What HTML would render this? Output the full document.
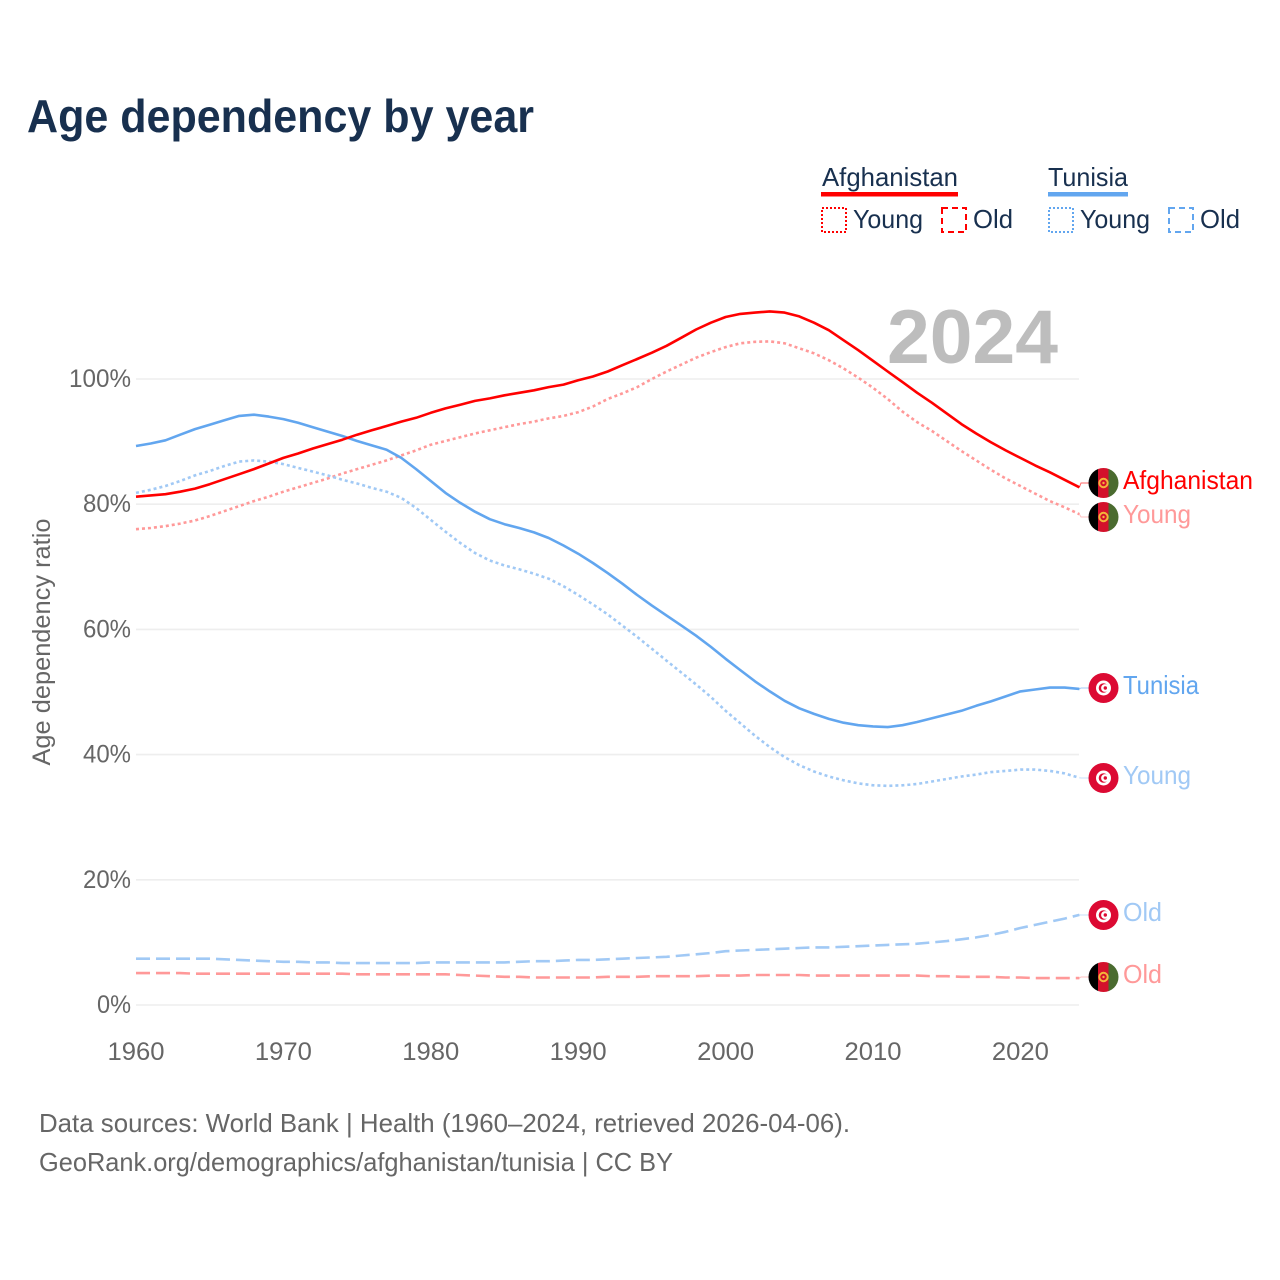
<!DOCTYPE html>
<html lang="en">
<head>
<meta charset="utf-8">
<title>Age dependency by year</title>
<style>
html,body{margin:0;padding:0;background:#fff;}
svg{display:block;}
text{font-family:"Liberation Sans",sans-serif;}
</style>
</head>
<body>
<svg id="chart" xmlns="http://www.w3.org/2000/svg" width="1280" height="1280" viewBox="0 0 1280 1280">
<defs>
<clipPath id="flag-clip"><circle cx="0" cy="0" r="15"/></clipPath>
<g id="flag-af">
<g clip-path="url(#flag-clip)">
<rect x="-15" y="-15" width="10" height="30" fill="#000"/>
<rect x="-5.5" y="-15" width="11" height="30" fill="#d3112b"/>
<rect x="5" y="-15" width="10" height="30" fill="#4a6b2f"/>
</g>
<circle cx="0" cy="0" r="4.2" fill="none" stroke="#f4b43a" stroke-width="2"/>
<circle cx="0" cy="0" r="1.2" fill="#f4b43a"/>
</g>
<g id="flag-tn">
<circle cx="0" cy="0" r="15" fill="#dc0a33"/>
<circle cx="0" cy="0" r="7.5" fill="#fff"/>
<circle cx="0" cy="0" r="4.8" fill="#dc0a33"/>
<circle cx="1.5" cy="0" r="3.9" fill="#fff"/>
<circle cx="1.8" cy="0" r="1.7" fill="#dc0a33"/>
</g>
</defs>

<text x="27" y="132" font-size="46" font-weight="700" fill="#18304f" textLength="507" lengthAdjust="spacingAndGlyphs">Age dependency by year</text>

<g>
<text x="822" y="186" font-size="26" fill="#18304f" textLength="136" lengthAdjust="spacingAndGlyphs">Afghanistan</text>
<rect x="821" y="192" width="137" height="4.5" fill="#ff0000"/>
<rect x="822" y="208" width="24" height="24" fill="none" stroke="#ff0000" stroke-width="2" stroke-dasharray="2 2"/>
<text x="853" y="228" font-size="26" fill="#18304f" textLength="70" lengthAdjust="spacingAndGlyphs">Young</text>
<rect x="942" y="208" width="24" height="24" fill="none" stroke="#ff0000" stroke-width="2" stroke-dasharray="6 4"/>
<text x="973" y="228" font-size="26" fill="#18304f" textLength="40" lengthAdjust="spacingAndGlyphs">Old</text>
<text x="1048" y="186" font-size="26" fill="#18304f" textLength="80" lengthAdjust="spacingAndGlyphs">Tunisia</text>
<rect x="1048" y="192" width="80" height="4.5" fill="#62a6ef"/>
<rect x="1049" y="208" width="24" height="24" fill="none" stroke="#62a6ef" stroke-width="2" stroke-dasharray="2 2"/>
<text x="1080" y="228" font-size="26" fill="#18304f" textLength="70" lengthAdjust="spacingAndGlyphs">Young</text>
<rect x="1169" y="208" width="24" height="24" fill="none" stroke="#62a6ef" stroke-width="2" stroke-dasharray="6 4"/>
<text x="1200" y="228" font-size="26" fill="#18304f" textLength="40" lengthAdjust="spacingAndGlyphs">Old</text>
</g>

<g id="grid"></g>
<g id="yticks"></g>
<g id="xticks"></g>

<text transform="translate(50,642) rotate(-90)" text-anchor="middle" font-size="25" fill="#666" textLength="247" lengthAdjust="spacingAndGlyphs">Age dependency ratio</text>

<text x="887" y="363" font-size="76" font-weight="700" fill="#bdbdbd" textLength="171" lengthAdjust="spacingAndGlyphs">2024</text>

<g id="series"></g>

<g>
<use href="#flag-af" x="1103.5" y="483"/>
<text x="1123" y="489" font-size="26" fill="#ff0000" textLength="130" lengthAdjust="spacingAndGlyphs">Afghanistan</text>
<use href="#flag-af" x="1103.5" y="517"/>
<text x="1123" y="523" font-size="26" fill="#ff9999" textLength="68" lengthAdjust="spacingAndGlyphs">Young</text>
<use href="#flag-tn" x="1103.5" y="688"/>
<text x="1123" y="694" font-size="26" fill="#62a6ef" textLength="76" lengthAdjust="spacingAndGlyphs">Tunisia</text>
<use href="#flag-tn" x="1103.5" y="778"/>
<text x="1123" y="784" font-size="26" fill="#a1c9f5" textLength="68" lengthAdjust="spacingAndGlyphs">Young</text>
<use href="#flag-tn" x="1103.5" y="915"/>
<text x="1123" y="921" font-size="26" fill="#a1c9f5" textLength="39" lengthAdjust="spacingAndGlyphs">Old</text>
<use href="#flag-af" x="1103.5" y="977"/>
<text x="1123" y="983" font-size="26" fill="#ff9999" textLength="39" lengthAdjust="spacingAndGlyphs">Old</text>
</g>

<text x="39" y="1132" font-size="26" fill="#666" textLength="811" lengthAdjust="spacingAndGlyphs">Data sources: World Bank | Health (1960–2024, retrieved 2026-04-06).</text>
<text x="39" y="1171" font-size="26" fill="#666" textLength="634" lengthAdjust="spacingAndGlyphs">GeoRank.org/demographics/afghanistan/tunisia | CC BY</text>
</svg>

<script>
const startYear = 1960;
const yTickValues = [0, 20, 40, 60, 80, 100];
const yTickLabels = ["0%", "20%", "40%", "60%", "80%", "100%"];
const xTickValues = [1960, 1970, 1980, 1990, 2000, 2010, 2020];
const xTickLabels = ["1960", "1970", "1980", "1990", "2000", "2010", "2020"];

const afghanistanTotal = [81.2,81.4,81.6,82.0,82.5,83.2,84.0,84.8,85.6,86.5,87.4,88.1,88.9,89.6,90.3,91.1,91.8,92.5,93.2,93.8,94.6,95.3,95.9,96.5,96.9,97.4,97.8,98.2,98.7,99.1,99.8,100.4,101.2,102.2,103.2,104.2,105.3,106.6,107.9,109.0,109.9,110.4,110.6,110.8,110.6,110.0,109.0,107.8,106.2,104.6,102.9,101.2,99.5,97.8,96.2,94.5,92.8,91.3,89.9,88.6,87.4,86.2,85.1,83.9,82.7];
const afghanistanYoung = [76.0,76.2,76.5,76.9,77.4,78.1,78.9,79.7,80.5,81.2,82.0,82.7,83.4,84.1,84.9,85.6,86.3,87.0,87.8,88.6,89.5,90.1,90.7,91.3,91.8,92.3,92.8,93.2,93.7,94.1,94.7,95.6,96.8,97.7,98.7,100.0,101.2,102.3,103.4,104.3,105.1,105.7,105.95,106.0,105.7,104.9,104.1,103.0,101.7,100.2,98.6,96.8,94.8,93.1,91.7,90.1,88.5,87.0,85.5,84.1,82.9,81.7,80.5,79.5,78.4];
const afghanistanOld = [5.1,5.1,5.1,5.1,5.0,5.0,5.0,5.0,5.0,5.0,5.0,5.0,5.0,5.0,5.0,4.9,4.9,4.9,4.9,4.9,4.9,4.9,4.8,4.7,4.6,4.5,4.5,4.4,4.4,4.4,4.4,4.4,4.5,4.5,4.5,4.6,4.6,4.6,4.6,4.7,4.7,4.7,4.8,4.8,4.8,4.8,4.7,4.7,4.7,4.7,4.7,4.7,4.7,4.7,4.6,4.6,4.5,4.5,4.5,4.4,4.4,4.3,4.3,4.3,4.3];
const tunisiaTotal = [89.3,89.7,90.2,91.1,92.0,92.7,93.4,94.1,94.3,94.0,93.6,93.0,92.3,91.6,90.9,90.1,89.4,88.7,87.4,85.6,83.7,81.8,80.2,78.8,77.6,76.8,76.2,75.5,74.6,73.4,72.1,70.6,69.0,67.3,65.5,63.8,62.2,60.6,59.0,57.2,55.3,53.5,51.7,50.1,48.6,47.4,46.5,45.7,45.1,44.7,44.5,44.4,44.7,45.2,45.8,46.4,47.0,47.8,48.5,49.3,50.1,50.4,50.7,50.7,50.5];
const tunisiaYoung = [81.8,82.3,82.9,83.7,84.6,85.3,86.1,86.8,87.0,86.8,86.4,85.8,85.2,84.6,83.9,83.3,82.6,82.0,81.0,79.4,77.5,75.6,73.8,72.2,71.0,70.2,69.6,68.9,68.1,66.9,65.5,64.0,62.4,60.6,58.8,56.9,55.0,53.1,51.2,49.2,47.0,45.0,43.0,41.2,39.6,38.3,37.3,36.5,35.9,35.4,35.1,35.0,35.1,35.3,35.7,36.1,36.5,36.8,37.2,37.4,37.6,37.6,37.4,37.0,36.3];
const tunisiaOld = [7.4,7.4,7.4,7.4,7.4,7.4,7.3,7.2,7.1,7.0,6.9,6.9,6.8,6.8,6.7,6.7,6.7,6.7,6.7,6.7,6.8,6.8,6.8,6.8,6.8,6.8,6.9,7.0,7.0,7.1,7.2,7.2,7.3,7.4,7.5,7.6,7.7,7.9,8.1,8.3,8.6,8.7,8.8,8.9,9.0,9.1,9.2,9.2,9.3,9.4,9.5,9.6,9.7,9.8,10.0,10.2,10.5,10.8,11.2,11.7,12.3,12.8,13.3,13.8,14.4];

const NS = "http://www.w3.org/2000/svg";
const xScale = function (year) { return 136 + (year - 1960) * 14.74; };
const yScale = function (pct) { return 1005 - pct * 6.26; };

const grid = document.getElementById("grid");
const yticks = document.getElementById("yticks");
const xticks = document.getElementById("xticks");
const seriesGroup = document.getElementById("series");

yTickValues.forEach(function (v, i) {
  const line = document.createElementNS(NS, "line");
  
  
  line.setAttribute("x1", 136);
  line.setAttribute("x2", 1079);
  line.setAttribute("y1", yScale(v));
  line.setAttribute("y2", yScale(v));
  line.setAttribute("stroke", "#eeeeee");
  line.setAttribute("stroke-width", "1.6");
  grid.appendChild(line);

  const t = document.createElementNS(NS, "text");
  
  
  t.setAttribute("x", 131);
  t.setAttribute("y", yScale(v) + 8);
  t.setAttribute("text-anchor", "end");
  t.setAttribute("font-size", "25");
  t.setAttribute("fill", "#666");
  t.setAttribute("textLength", yTickLabels[i].length * 14 + 6);
  t.setAttribute("lengthAdjust", "spacingAndGlyphs");
  t.textContent = yTickLabels[i];
  yticks.appendChild(t);
});

xTickValues.forEach(function (v, i) {
  const t = document.createElementNS(NS, "text");
  
  
  t.setAttribute("x", xScale(v));
  t.setAttribute("y", 1060);
  t.setAttribute("text-anchor", "middle");
  t.setAttribute("font-size", "25");
  t.setAttribute("fill", "#666");
  t.setAttribute("textLength", "57");
  t.setAttribute("lengthAdjust", "spacingAndGlyphs");
  t.textContent = xTickLabels[i];
  xticks.appendChild(t);
});

function drawSeries(values, name, color, dash, labelY) {
  const pts = values.map(function (v, i) {
    return xScale(startYear + i).toFixed(1) + "," + yScale(v).toFixed(1);
  });
  const path = document.createElementNS(NS, "polyline");
  
  
  path.setAttribute("points", pts.join(" "));
  path.setAttribute("fill", "none");
  path.setAttribute("stroke", color);
  path.setAttribute("stroke-width", "2.6");
  path.setAttribute("stroke-linejoin", "round");
  if (dash) path.setAttribute("stroke-dasharray", dash);
  seriesGroup.appendChild(path);

  const last = values[values.length - 1];
  const link = document.createElementNS(NS, "polyline");
  
  
  link.setAttribute("points", xScale(startYear + values.length - 1).toFixed(1) + "," + yScale(last).toFixed(1) + " 1081," + labelY + " 1089," + labelY);
  link.setAttribute("fill", "none");
  link.setAttribute("stroke", color);
  link.setAttribute("stroke-width", "1");
  link.setAttribute("stroke-opacity", "0.6");
  seriesGroup.appendChild(link);
}

drawSeries(afghanistanOld, "afghanistan-old-line", "#ff9999", "14 6", 977);
drawSeries(tunisiaOld, "tunisia-old-line", "#a1c9f5", "14 6", 915);
drawSeries(afghanistanYoung, "afghanistan-young-line", "#ff9999", "3 3", 517);
drawSeries(tunisiaYoung, "tunisia-young-line", "#a1c9f5", "3 3", 778);
drawSeries(tunisiaTotal, "tunisia-total-line", "#62a6ef", "", 688);
drawSeries(afghanistanTotal, "afghanistan-total-line", "#ff0000", "", 483);
</script>
</body>
</html>
